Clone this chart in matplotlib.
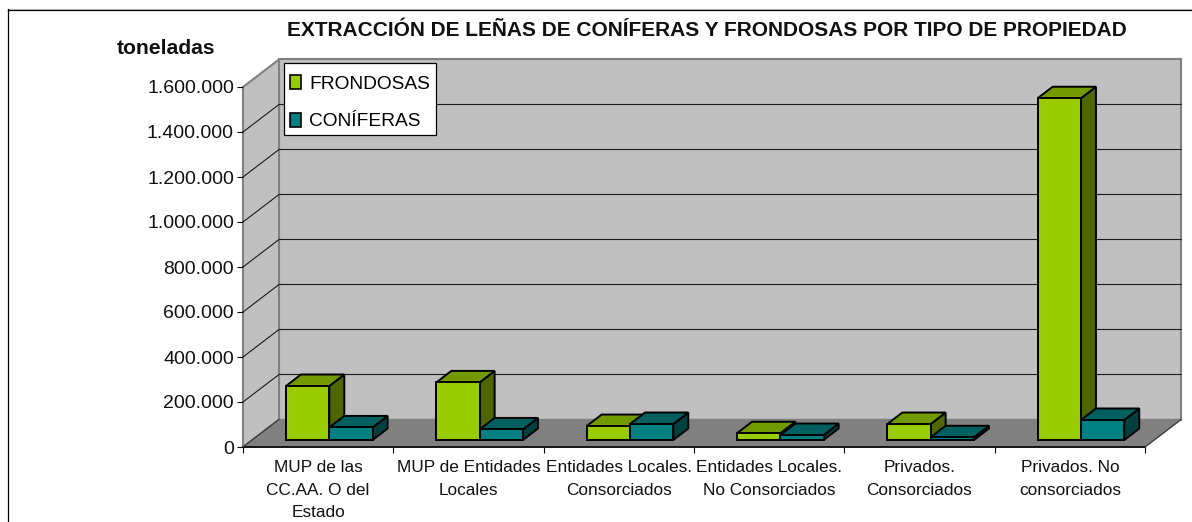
import matplotlib
matplotlib.use("Agg")
import matplotlib.pyplot as plt
from matplotlib.patches import Polygon, Patch, Rectangle
from matplotlib.lines import Line2D

plt.rcParams['font.family'] = ['Liberation Sans', 'DejaVu Sans']

categories = ["MUP de las\nCC.AA. O del\nEstado", "MUP de Entidades\nLocales",
              "Entidades Locales.\nConsorciados", "Entidades Locales.\nNo Consorciados",
              "Privados.\nConsorciados", "Privados. No\nconsorciados"]
frondosas = [240000, 256000, 62000, 30000, 71000, 1519000]
coniferas = [56000, 47000, 71000, 22000, 12000, 89000]
yticks = [0, 200000, 400000, 600000, 800000, 1000000, 1200000, 1400000, 1600000]
ylabels = ["0", "200.000", "400.000", "600.000", "800.000", "1.000.000", "1.200.000", "1.400.000", "1.600.000"]

W, H = 1192, 522
L, R, B, T = 243, 1145, 447, 87       # front plane of the chart, in pixels
PX = 6 / (R - L)                      # categories per pixel
PY = 1600000 / (B - T)                # tonnes per pixel
WALL_X, WALL_Y = 36 * PX, 27.5 * PY
DEPTH_X, DEPTH_Y = 15 * PX, 11.5 * PY
BAR_W, BAR_GAP, BAR_LIFT = 43.3 * PX, 43 * PX, 7 * PY


def poly(ax, pts, fc, ec='black', lw=1.4, z=3):
    ax.add_patch(Polygon(pts, closed=True, facecolor=fc, edgecolor=ec, linewidth=lw,
                         joinstyle='miter', zorder=z, clip_on=False))


def bar3d(ax, x, val, front, top, side):
    y0 = BAR_LIFT
    y1 = BAR_LIFT + val
    x1 = x + BAR_W
    poly(ax, [(x1, y0), (x1 + DEPTH_X, y0 + DEPTH_Y), (x1 + DEPTH_X, y1 + DEPTH_Y), (x1, y1)], side)
    poly(ax, [(x, y1), (x + DEPTH_X, y1 + DEPTH_Y), (x1 + DEPTH_X, y1 + DEPTH_Y), (x1, y1)], top)
    poly(ax, [(x, y0), (x1, y0), (x1, y1), (x, y1)], front)


fig = plt.figure(figsize=(W / 100, H / 100), dpi=100)
ax = fig.add_axes([L / W, 1 - B / H, (R - L) / W, (B - T) / H])
ax.set_xlim(0, 6)
ax.set_ylim(0, 1600000)
ax.patch.set_visible(False)
for s in ax.spines.values():
    s.set_visible(False)

# walls and floor
ymax = yticks[-1]
poly(ax, [(WALL_X, WALL_Y), (6 + WALL_X, WALL_Y), (6 + WALL_X, ymax + WALL_Y), (WALL_X, ymax + WALL_Y)],
     '#c0c0c0', ec='#808080', lw=1.5, z=1)
poly(ax, [(0, 0), (WALL_X, WALL_Y), (WALL_X, ymax + WALL_Y), (0, ymax)], '#c0c0c0', ec='#808080', lw=1.5, z=1)
poly(ax, [(0, 0), (6, 0), (6 + WALL_X, WALL_Y), (WALL_X, WALL_Y)], '#808080', ec='#808080', lw=1, z=1)

for v in yticks[1:-1]:
    ax.plot([0, WALL_X, 6 + WALL_X], [v, v + WALL_Y, v + WALL_Y], color='#1a1a1a', lw=0.8, zorder=2, clip_on=False)
ax.plot([0, 6], [0, 0], color='black', lw=1.2, zorder=2, clip_on=False)
ax.plot([6, 6 + WALL_X], [0, WALL_Y], color='#333333', lw=0.8, zorder=2, clip_on=False)
ax.plot([0, WALL_X], [0, WALL_Y], color='#333333', lw=0.8, zorder=2, clip_on=False)

for i in range(len(categories)):
    x = i + BAR_GAP
    bar3d(ax, x, frondosas[i], '#99cc00', '#739900', '#4d6600')
    bar3d(ax, x + BAR_W, coniferas[i], '#008080', '#006060', '#004040')

ax.set_yticks(yticks, ylabels, fontsize=14, color='#111111')
ax.set_xticks(range(7), [])
ax.set_xticks([i + 0.5 for i in range(6)], categories, minor=True, fontsize=12.4, linespacing=1.62, color='#111111')
ax.tick_params(axis='y', length=4.5, width=0.8, pad=2)
ax.tick_params(axis='x', which='major', length=4.5, width=0.8)
ax.tick_params(axis='x', which='minor', length=0, pad=9.5)

fig.text(707 / W, 1 - 30 / H, "EXTRACCIÓN DE LEÑAS DE CONÍFERAS Y FRONDOSAS POR TIPO DE PROPIEDAD",
         fontsize=15.05, fontweight='bold', ha='center', va='center', color='#111111')
fig.text(166 / W, 1 - 49 / H, "toneladas", fontsize=15.2, fontweight='bold', ha='center', va='center', color='#111111')

# legend box is drawn apart, its padding differs left/right and top/bottom
ax.add_patch(Rectangle((283.5 / W, 1 - 134.5 / H), 152.5 / W, 71.5 / H, transform=fig.transFigure,
                       facecolor='white', edgecolor='black', linewidth=0.9, zorder=4.5, clip_on=False))
handles = [Patch(facecolor='#99cc00', edgecolor='black', linewidth=1.2, label='FRONDOSAS'),
           Patch(facecolor='#008080', edgecolor='black', linewidth=1.2, label='CONÍFERAS')]
leg = ax.legend(handles=handles, loc='upper left', bbox_to_anchor=(284 / W, 1 - 69.5 / H),
                bbox_transform=fig.transFigure, fontsize=13.8, frameon=False,
                handlelength=0.6, handleheight=0.75, handletextpad=0.42,
                labelspacing=1.03, borderpad=0.3, borderaxespad=0)
leg.set_zorder(5)

# outer chart frame, only top and left fall inside the crop
fig.add_artist(Line2D([8 / W, 1], [1 - 8.5 / H, 1 - 8.5 / H], color='#c8c8c8', lw=0.8))
fig.add_artist(Line2D([8 / W, 1], [1 - 9.5 / H, 1 - 9.5 / H], color='black', lw=0.9))
fig.add_artist(Line2D([8 / W, 8 / W], [0, 1 - 9 / H], color='black', lw=0.9))

fig.savefig("out.png", dpi=100)
